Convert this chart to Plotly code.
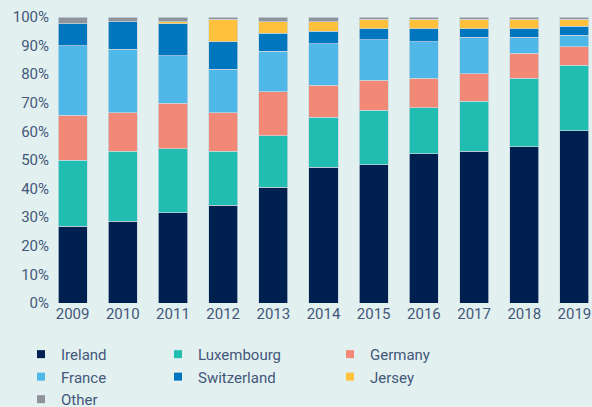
import plotly.graph_objects as go

years = ["2009", "2010", "2011", "2012", "2013", "2014", "2015", "2016", "2017", "2018", "2019"]
ireland = [26.9, 28.5, 31.6, 34.1, 40.4, 47.5, 48.3, 52.1, 53.0, 54.7, 60.3]
luxembourg = [23.0, 24.5, 22.3, 18.9, 18.1, 17.5, 19.1, 16.1, 17.6, 23.8, 22.9]
germany = [15.8, 13.6, 15.9, 13.6, 15.3, 11.2, 10.4, 10.3, 9.6, 8.8, 6.4]
france = [24.2, 22.2, 16.7, 15.2, 14.3, 14.4, 14.3, 12.8, 12.7, 5.6, 4.1]
switzerland = [7.7, 9.6, 11.1, 9.5, 6.3, 4.5, 3.8, 4.6, 3.0, 3.0, 3.1]
jersey = [0.0, 0.0, 0.8, 7.9, 4.0, 3.3, 3.3, 3.3, 3.3, 3.3, 2.4]
other = [2.4, 1.6, 1.6, 0.8, 1.6, 1.6, 0.8, 0.8, 0.8, 0.8, 0.8]
y_ticks = [0, 10, 20, 30, 40, 50, 60, 70, 80, 90, 100]

series = [
    ("Ireland", ireland, "#00204F", "legend"),
    ("Luxembourg", luxembourg, "#22BDB1", "legend2"),
    ("Germany", germany, "#F28876", "legend3"),
    ("France", france, "#4FB8E8", "legend"),
    ("Switzerland", switzerland, "#0076BF", "legend2"),
    ("Jersey", jersey, "#FFC13B", "legend3"),
    ("Other", other, "#8E939C", "legend"),
]

TXT = "#44577A"
FONT = "Roboto"

fig = go.Figure()
for name, vals, color, lg in series:
    fig.add_trace(go.Bar(
        x=years, y=vals, name=name, showlegend=False,
        marker=dict(color=color, line=dict(color="rgba(200,215,225,0.9)", width=0.8)),
        width=0.58,
    ))
for name, vals, color, lg in series:
    fig.add_trace(go.Scatter(
        x=[None], y=[None], mode="markers", name=name, legend=lg,
        marker=dict(symbol="square", size=8, color=color),
        showlegend=True,
    ))

leg_common = dict(
    orientation="v", yanchor="top", xanchor="left", y=-0.122,
    bgcolor="rgba(0,0,0,0)", font=dict(family=FONT, size=15, color=TXT),
    itemwidth=30, tracegroupgap=0, traceorder="normal",
)

fig.update_layout(
    barmode="stack",
    width=592, height=407,
    margin=dict(l=50, r=0, t=17, b=104, autoexpand=False),
    paper_bgcolor="#E2F1F0",
    plot_bgcolor="#E2F1F0",
    font=dict(family=FONT, size=15, color=TXT),
    xaxis=dict(
        type="category", range=[-0.45, 10.35], showgrid=False, zeroline=False,
        showline=False, ticks="", tickfont=dict(family=FONT, size=15, color=TXT),
    ),
    yaxis=dict(
        range=[0, 100], tickvals=y_ticks, ticktext=[f"{v}%" for v in y_ticks],
        showgrid=False, zeroline=False, showline=False, ticks="",
        tickfont=dict(family=FONT, size=15, color=TXT),
    ),
    legend=dict(leg_common, x=(21 - 50) / 542),
    legend2=dict(leg_common, x=(158 - 50) / 542),
    legend3=dict(leg_common, x=(330 - 50) / 542),
)

fig.write_html("out.html", config={"displayModeBar": False},
               post_script="document.body.style.margin='0';")
